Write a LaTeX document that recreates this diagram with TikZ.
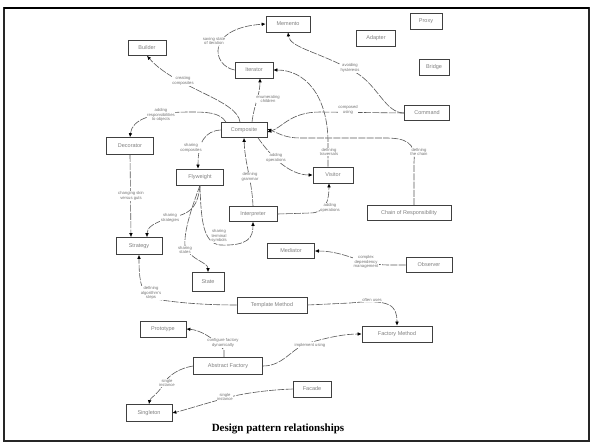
\documentclass[tikz,border=0pt]{standalone}
\usepackage{fontspec}
\setmainfont{Liberation Serif}
\setsansfont{Liberation Sans}
\usetikzlibrary{arrows.meta}
\begin{document}
\begin{tikzpicture}[x=1pt,y=-1pt,
  pat/.style={draw=black!75,line width=0.65pt,fill=white,inner sep=0pt,
    font=\sffamily\fontsize{5.5}{6}\selectfont,text=black!50},
  rel/.style={draw=black!65,line width=0.6pt,dash pattern=on 7pt off 1.3pt,
    -{Latex[length=4pt,width=3.6pt,color=black]}},
  lbl/.style={font=\sffamily\fontsize{4.2}{4.6}\selectfont,text=black!55,
    align=center,fill=white,inner sep=0.6pt}]
\useasboundingbox (0,0) rectangle (594,447);
\fill[white] (0,0) rectangle (594,447);
% outer frame
\draw[line width=1.4pt,black!85] (4,8) rectangle (589,441);
\draw[line width=2.4pt] (4,8) -- (589,8);

% patterns
\node[pat,minimum width=44pt,minimum height=16pt] (memento) at (288,24) {Memento};
\node[pat,minimum width=32pt,minimum height=16pt] (proxy) at (426,21) {Proxy};
\node[pat,minimum width=38pt,minimum height=15pt] (builder) at (147,48) {Builder};
\node[pat,minimum width=39pt,minimum height=16pt] (adapter) at (376,38) {Adapter};
\node[pat,minimum width=38pt,minimum height=16pt] (iterator) at (254,70) {Iterator};
\node[pat,minimum width=30pt,minimum height=16pt] (bridge) at (434,67) {Bridge};
\node[pat,minimum width=45pt,minimum height=15pt] (command) at (427,113) {Command};
\node[pat,minimum width=46pt,minimum height=15pt] (composite) at (244,130) {Composite};
\node[pat,minimum width=47pt,minimum height=17pt] (decorator) at (130,146) {Decorator};
\node[pat,minimum width=47pt,minimum height=16pt] (flyweight) at (200,177) {Flyweight};
\node[pat,minimum width=40pt,minimum height=16pt] (visitor) at (333,175) {Visitor};
\node[pat,minimum width=48pt,minimum height=15pt] (interpreter) at (253,214) {Interpreter};
\node[pat,minimum width=84pt,minimum height=15pt] (chain) at (409,213) {Chain of Responsibility};
\node[pat,minimum width=46pt,minimum height=17pt] (strategy) at (139,246) {Strategy};
\node[pat,minimum width=32pt,minimum height=19pt] (state) at (208,282) {State};
\node[pat,minimum width=47pt,minimum height=15pt] (mediator) at (291,251) {Mediator};
\node[pat,minimum width=46pt,minimum height=15pt] (observer) at (429,265) {Observer};
\node[pat,minimum width=70pt,minimum height=16pt] (template) at (272,305) {Template Method};
\node[pat,minimum width=70pt,minimum height=16pt] (factory) at (397,334) {Factory Method};
\node[pat,minimum width=46pt,minimum height=16pt] (prototype) at (163,329) {Prototype};
\node[pat,minimum width=69pt,minimum height=17pt] (abstractfactory) at (228,366) {Abstract Factory};
\node[pat,minimum width=38pt,minimum height=16pt] (facade) at (312,389) {Facade};
\node[pat,minimum width=46pt,minimum height=17pt] (singleton) at (149,413) {Singleton};

% relationships
\draw[rel] (iterator.west) .. controls (212,66) and (205,28) .. (memento.west);
\draw[rel] ([xshift=-4pt]composite.north) .. controls (238,100) and (175,88) .. (builder.south);
\draw[rel] ([xshift=8pt]composite.north) .. controls (254,105) and (260,95) .. ([xshift=6pt]iterator.south);
\draw[rel] ([xshift=-18pt]composite.north) .. controls (220,112) and (205,112) .. (190,112)
  .. controls (150,112) and (132,120) .. (decorator.north);
\draw[rel] (composite.west) .. controls (205,131) and (198,142) .. ([xshift=-2pt]flyweight.north);
\draw[rel] ([xshift=14pt]composite.south) .. controls (272,158) and (290,175) .. (visitor.west);
\draw[rel] (interpreter.north) .. controls (252,180) and (245,165) .. (composite.south);
\draw[rel] (interpreter.east) -- (310,213) .. controls (326,213) and (329,200) .. ([xshift=-4pt]visitor.south);
\draw[rel] ([xshift=-5pt]visitor.north) -- (328,140) .. controls (327,95) and (305,70) .. (iterator.east);
\draw[rel] (command.west) -- (320,112) .. controls (290,112) and (282,128) .. ([yshift=-2pt]composite.east);
\draw[rel] ([xshift=5pt]chain.north) -- (414,162) .. controls (416,142) and (405,138) .. (385,138)
  -- (300,138) .. controls (285,138) and (278,133) .. ([yshift=1pt]composite.east);
\draw[rel] (command.west) .. controls (385,113) and (378,85) .. (355,72)
  .. controls (320,52) and (290,48) .. (memento.south);
\draw[rel] (decorator.south) -- ([xshift=-8pt]strategy.north);
\draw[rel] (flyweight.south) .. controls (198,205) and (192,212) .. (178,216)
  .. controls (152,222) and (147,228) .. ([xshift=8pt]strategy.north);
\draw[rel] (flyweight.south) .. controls (190,212) and (184,232) .. (185,246)
  .. controls (190,260) and (208,262) .. (state.north);
\draw[rel] (flyweight.south) .. controls (201,220) and (203,243) .. (220,245)
  .. controls (248,246) and (253,238) .. (interpreter.south);
\draw[rel] (observer.west) -- (388,265) .. controls (362,265) and (345,251) .. (mediator.east);
\draw[rel] (template.west) .. controls (200,305) and (170,302) .. (150,298)
  .. controls (140,292) and (139,275) .. (strategy.south);
\draw[rel] (template.east) -- (350,303) .. controls (390,299) and (397,305) .. (factory.north);
\draw[rel] (abstractfactory.east) .. controls (285,366) and (292,346) .. (312,342)
  .. controls (330,337) and (345,334) .. (factory.west);
\draw[rel] ([xshift=-4pt]abstractfactory.north) -- (224,350) .. controls (214,338) and (200,330) .. (prototype.east);
\draw[rel] (abstractfactory.west) .. controls (180,368) and (168,375) .. (163,385)
  .. controls (157,395) and (150,398) .. (singleton.north);
\draw[rel] (facade.west) .. controls (265,390) and (240,394) .. (226,398)
  .. controls (200,405) and (185,410) .. (singleton.east);

% relationship labels
\node[lbl] (l-save) at (214,41) {saving state\\of iteration};
\node[lbl] (l-create) at (183,81) {creating\\composites};
\node[lbl] (l-enum) at (268,99) {enumerating\\children};
\node[lbl] (l-resp) at (161,115) {adding\\responsibilities\\to objects};
\node[lbl] (l-sharecomp) at (191,148) {sharing\\composites};
\node[lbl] (l-addop1) at (276,158) {adding\\operations};
\node[lbl] (l-grammar) at (250,177) {defining\\grammar};
\node[lbl] (l-addop2) at (330,208) {adding\\operations};
\node[lbl] (l-trav) at (329,152) {defining\\traversals};
\node[lbl] (l-composed) at (348,110) {composed\\using};
\node[lbl] (l-chain) at (419,152) {defining\\the chain};
\node[lbl] (l-hyst) at (350,68) {avoiding\\hysteresis};
\node[lbl] (l-skin) at (131,196) {changing skin\\versus guts};
\node[lbl] (l-strat) at (170,218) {sharing\\strategies};
\node[lbl] (l-states) at (185,250) {sharing\\states};
\node[lbl] (l-term) at (219,236) {sharing\\terminal\\symbols};
\node[lbl] (l-dep) at (366,262) {complex\\dependency\\management};
\node[lbl] (l-alg) at (151,293) {defining\\algorithm's\\steps};
\node[lbl] (l-often) at (372,300) {often uses};
\node[lbl] (l-impl) at (310,345) {implement using};
\node[lbl] (l-config) at (223,343) {configure factory\\dynamically};
\node[lbl] (l-single1) at (167,383) {single\\instance};
\node[lbl] (l-single2) at (225,397) {single\\instance};

% caption
\node (title) at (278,429) {\fontsize{11}{13}\selectfont\bfseries Design pattern relationships};
\end{tikzpicture}
\end{document}
